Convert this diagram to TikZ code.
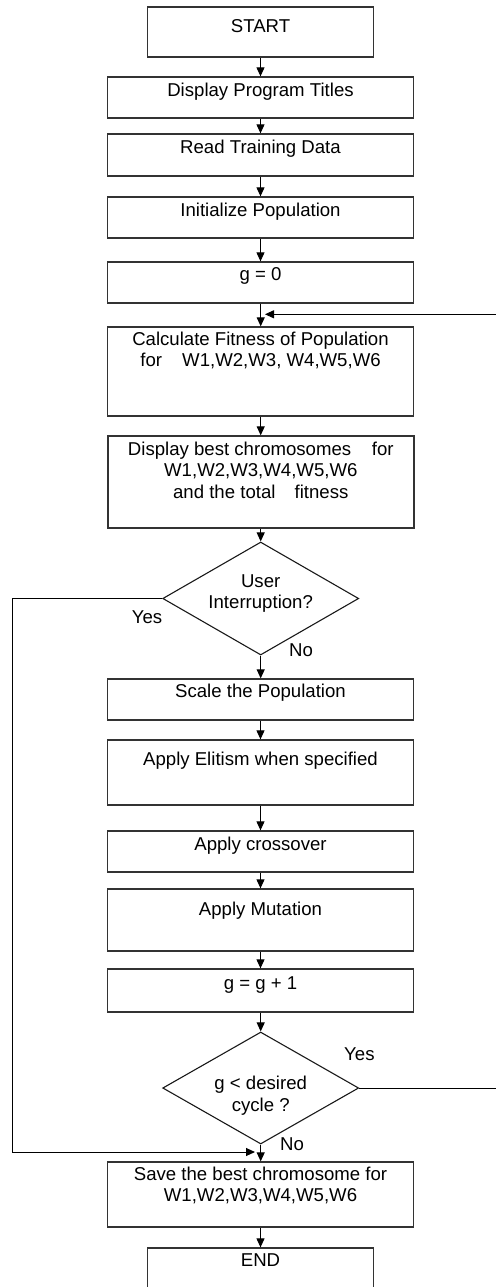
\documentclass[tikz,border=0pt]{standalone}
\usepackage{fontspec}
\setmainfont{Liberation Sans}
\usetikzlibrary{arrows.meta,shapes.geometric}
\newcommand{\fsz}{\fontsize{18.6pt}{21.7pt}\selectfont}
\begin{document}
\begin{tikzpicture}[x=1pt,y=-1pt,
  box/.style={draw=black!80,line width=1.3pt,minimum width=306pt,inner sep=0pt},
  dec/.style={diamond,draw=black!90,line width=1.1pt,minimum width=196pt,minimum height=113pt,inner sep=0pt},
  txt/.style={anchor=north,inner sep=0pt,align=center,font=\fsz,execute at begin node={\rule{0pt}{14pt}}},
  lab/.style={anchor=base west,inner sep=0pt,font=\fsz},
  arr/.style={draw=black,line width=1pt,-{Triangle[length=9pt,width=8pt]}}]
\useasboundingbox (0,0) rectangle (495,1287);
% boxes
\node[box,minimum width=225.6pt,minimum height=50pt] (b1) at (260.5,32) {};
\node[box,minimum height=41pt] (b2) at (260.5,97.5) {};
\node[box,minimum height=42pt] (b3) at (260.5,155) {};
\node[box,minimum height=41pt] (b4) at (260.5,217.5) {};
\node[box,minimum height=41pt] (b5) at (260.5,282.5) {};
\node[box,minimum height=89pt] (b6) at (260.7,371.5) {};
\node[box,minimum height=92pt] (b7) at (261,482) {};
\node[dec] (d1) at (260.7,598.5) {};
\node[box,minimum height=41pt] (b8) at (260.5,699.5) {};
\node[box,minimum height=65pt] (b9) at (260.7,772.5) {};
\node[box,minimum height=41pt] (b10) at (260.5,851.5) {};
\node[box,minimum height=62pt] (b11) at (260.7,920) {};
\node[box,minimum height=43pt] (b12) at (260.5,990.5) {};
\node[dec,minimum height=112pt] (d2) at (260.7,1088) {};
\node[box,minimum height=65pt] (b13) at (260.7,1194.5) {};
\node[box,minimum width=225.6pt,minimum height=52pt] (b14) at (260.5,1274) {};
% texts
\node[txt] (t1) at (260.5,18) {START};
\node[txt] (t2) at (260.5,82) {Display Program Titles};
\node[txt] (t3) at (260.5,139) {Read Training Data};
\node[txt] (t4) at (260.5,202.5) {Initialize Population};
\node[txt] (t5) at (260.5,266.5) {g = 0};
\node[txt] (t6) at (260.5,331.5) {Calculate Fitness of Population\\for\hspace{15pt} W1,W2,W3, W4,W5,W6};
\node[txt] (t7) at (260.8,441.5) {Display best chromosomes\hspace{15.5pt} for\\W1,W2,W3,W4,W5,W6\\and the total\hspace{14pt} fitness};
\node[txt] (t8) at (260.7,574) {User\\Interruption?};
\node[lab] (yes1) at (131.7,623) {Yes};
\node[lab] (no1) at (289,656.5) {No};
\node[txt] (t9) at (260.5,683) {Scale the Population};
\node[txt] (t10) at (260.5,751.5) {Apply Elitism when specified};
\node[txt] (t11) at (260.5,836) {Apply crossover};
\node[txt] (t12) at (260.5,901.5) {Apply Mutation};
\node[txt] (t13) at (260.5,975) {g = g + 1};
\node[lab] (yes2) at (344,1060.5) {Yes};
\node[txt] (t14) at (260.7,1076) {g < desired\\cycle ?};
\node[lab] (no2) at (280,1150.5) {No};
\node[txt] (t15) at (260.5,1166.5) {Save the best chromosome for\\W1,W2,W3,W4,W5,W6};
\node[txt] (t16) at (260.5,1252) {END};
% connectors
\coordinate (fb) at (265,314.3);
\coordinate (jn) at (255,1152);
\draw[arr] (b1.south) -- (b2.north);
\draw[arr] (b2.south) -- (b3.north);
\draw[arr] (b3.south) -- (b4.north);
\draw[arr] (b4.south) -- (b5.north);
\draw[arr] (b5.south -| b6.north) -- (b6.north);
\draw[arr] (b6.south) -- (b7.north -| b6.south);
\draw[arr] (b7.south -| d1.north) -- (d1.north);
\draw[arr] (d1.south) -- (b8.north -| d1.south);
\draw[arr] (b8.south) -- (b9.north -| b8.south);
\draw[arr] (b9.south -| b10.north) -- (b10.north);
\draw[arr] (b10.south) -- (b11.north -| b10.south);
\draw[arr] (b11.south -| b12.north) -- (b12.north);
\draw[arr] (b12.south -| d2.north) -- (d2.north);
\draw[arr] (d2.south) -- (b13.north -| d2.south);
\draw[arr] (b13.south -| b14.north) -- (b14.north);
\draw[arr] (d2.east) -- ++(140,0) |- (fb);
\draw[arr] (d1.west) -- ++(-150,0) |- (jn);
\end{tikzpicture}
\end{document}
